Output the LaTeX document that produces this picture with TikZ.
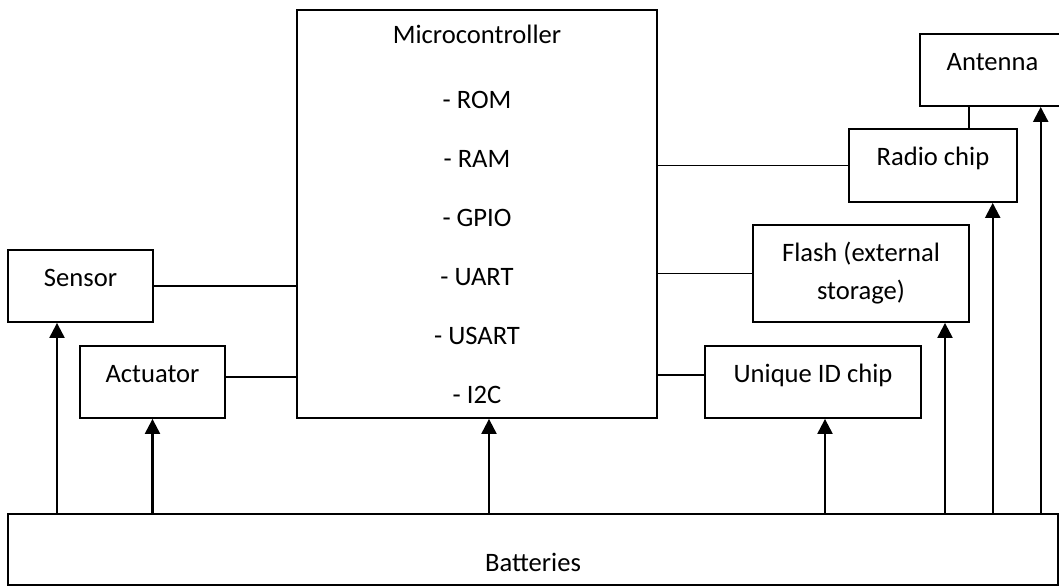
\documentclass[tikz,border=0pt]{standalone}
\usepackage{fontspec}
\setmainfont{Carlito}
\usepackage{tikz}
\usetikzlibrary{arrows.meta,positioning,calc}
\tikzset{
  box/.style  = {draw=black, line width=0.9pt, align=center, inner sep=3pt,
                 font=\fontsize{13.3}{16}\selectfont},
  sbox/.style = {box, text height=8.5pt, text depth=8.5pt},
  ln/.style   = {line width=0.65pt},
  ar/.style   = {-{Triangle[length=7.5pt,width=7.5pt]}, line width=1.1pt},
}

\begin{document}
\begin{tikzpicture}[x=0.5pt, y=-0.5pt]
  \useasboundingbox (0,0) rectangle (1059,586);
  \node[box, minimum width=180pt, minimum height=204pt] (mcu) at (477,214)
    {Microcontroller\\[16.5pt]- ROM\\[13.5pt]- RAM\\[13.5pt]- GPIO\\[13.5pt]- UART\\[13.5pt]- USART\\[13.5pt]- I2C};
  \node[sbox, minimum width=72.5pt, minimum height=36pt] (sens) at (80.5,286) {Sensor};
  \node[sbox, minimum width=72.5pt, minimum height=36pt] (act) at (152.5,382) {Actuator};
  \node[sbox, minimum width=72.5pt, minimum height=36pt] (ant) at (992.5,70) {Antenna};
  \node[sbox, minimum width=84pt, minimum height=36.5pt] (radio) at (933,165.5) {Radio chip};
  \node[box, minimum width=108pt, minimum height=48.5pt] (flash) at (861,273.5) {Flash (external\\[3pt]storage)};
  \node[sbox, minimum width=108pt, minimum height=36pt] (uid) at (813,382) {Unique ID chip};
  \node[box, text height=24.2pt, text depth=2pt, minimum width=525pt, minimum height=35.5pt] (bat) at (533,549.5) {Batteries};
  % plain links
  \draw[ln] (sens.east) -- (sens.east -| mcu.west);
  \draw[ln] ([yshift=2.5pt]act.east) -- ([yshift=2.5pt]act.east -| mcu.west);
  \draw[ln] (mcu.east |- radio.west) -- (radio.west);
  \draw[ln] (mcu.east |- flash.west) -- (flash.west);
  \draw[ln] ([yshift=3.5pt]mcu.east |- uid.west) -- ([yshift=3.5pt]uid.west);
  \draw[ln] ([xshift=18pt]radio.north) -- ([xshift=18pt]radio.north |- ant.south);
  % power arrows
  \foreach \n/\dx in {sens/-23.5, act/0, mcu/12, uid/12, flash/84, radio/59.7, ant/48.2}
    \draw[ar] ([xshift=\dx*0.5pt]\n.south |- bat.north) -- ([xshift=\dx*0.5pt]\n.south);
\end{tikzpicture}
\end{document}
